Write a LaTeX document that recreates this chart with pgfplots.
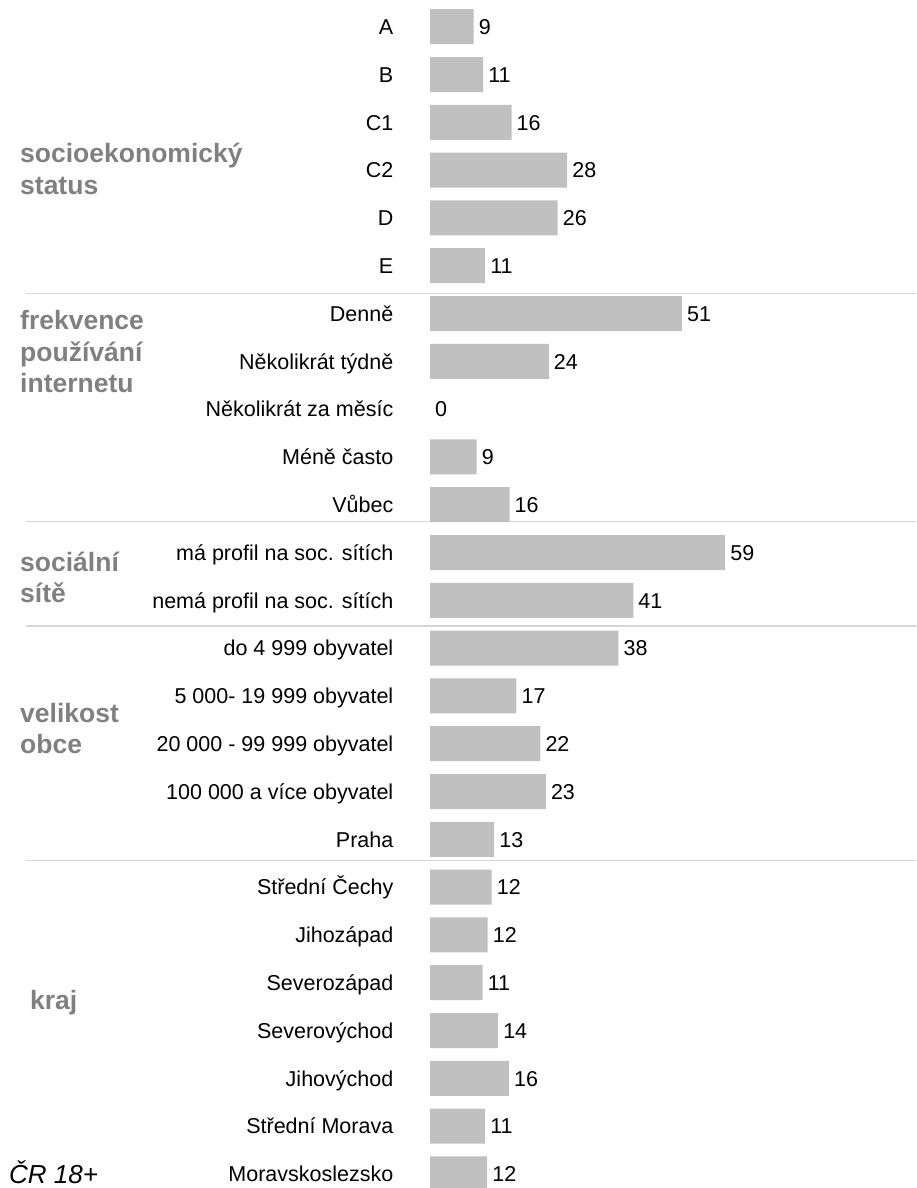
\documentclass[border=0pt]{standalone}
\usepackage{fontspec}
\setmainfont{Liberation Sans}
\usepackage{pgfplots}
\pgfplotsset{compat=1.18}
\usepackage{pgfplotstable}
\definecolor{barcol}{HTML}{C0C0C0}
\definecolor{grpcol}{HTML}{808080}
\definecolor{sepcol}{HTML}{D6D6D6}

\pgfplotstableread{
idx val lab
0 8.8 9
1 10.7 11
2 16.4 16
3 27.6 28
4 25.7 26
5 11.1 11
6 50.7 51
7 23.9 24
9 9.4 9
10 16.0 16
11 59.4 59
12 40.9 41
13 37.9 38
14 17.4 17
15 22.2 22
16 23.3 23
17 12.9 13
18 12.4 12
19 11.6 12
20 10.6 11
21 13.7 14
22 15.9 16
23 11.1 11
24 11.5 12
}\datatable

\pgfplotstableread{
idx val lab
8 0 0
}\zerotable

\begin{document}
\begin{tikzpicture}
\useasboundingbox (0pt,0pt) rectangle (916pt,1188pt);
\clip (0pt,0pt) rectangle (916pt,1188pt);
\foreach \yy in {894.7,666.3,562,327.3}
  \draw[sepcol, line width=1.5pt] (26pt,\yy pt) -- (916pt,\yy pt);
\begin{axis}[
  at={(430pt,0pt)}, anchor=south west,
  scale only axis, width=486pt, height=1188pt,
  xmin=0, xmax=97.79,
  y dir=reverse, ymin=-0.5586, ymax=24.295,
  axis line style={draw=none}, tick style={draw=none},
  xtick=\empty,
  ytick={0,1,...,24},
  yticklabels={A,B,C1,C2,D,E,Denně,Několikrát týdně,Několikrát za měsíc,Méně často,Vůbec,má profil na soc. sítích,nemá profil na soc. sítích,do 4 999 obyvatel,5 000- 19 999 obyvatel,20 000 - 99 999 obyvatel,100 000 a více obyvatel,Praha,Střední Čechy,Jihozápad,Severozápad,Severovýchod,Jihovýchod,Střední Morava,Moravskoslezsko},
  yticklabel style={font=\fontsize{21.5}{25}\selectfont, anchor=east, inner sep=0pt, text height=15.4pt, text depth=0pt, xshift=-36.5pt},
  every node near coord/.append style={font=\fontsize{21.5}{25}\selectfont, anchor=west, inner sep=0pt, text height=15.4pt, text depth=0pt, xshift=5pt, text=black},
]
\addplot[xbar, fill=barcol, draw=none, bar width=35pt, bar shift=0pt,
  point meta=explicit symbolic, nodes near coords,
] table[x=val, y=idx, meta=lab] {\datatable};
\addplot[xbar, fill=none, draw=none, bar width=35pt, bar shift=0pt,
  point meta=explicit symbolic, nodes near coords,
] table[x=val, y=idx, meta=lab] {\zerotable};
\end{axis}
\begin{scope}[every node/.style={font=\fontsize{26.5}{32}\selectfont\bfseries, text=grpcol, anchor=base west, inner sep=0pt}]
\node at (20pt,1025pt) {socioekonomický};
\node at (20pt,993pt) {status};
\node at (20pt,858pt) {frekvence};
\node at (20pt,826pt) {používání};
\node at (20pt,795pt) {internetu};
\node at (20pt,616pt) {sociální};
\node at (20pt,585pt) {sítě};
\node at (20pt,465pt) {velikost};
\node at (20pt,434pt) {obce};
\node at (30pt,178pt) {kraj};
\end{scope}
\node[font=\fontsize{26}{30}\selectfont\itshape, anchor=base west, inner sep=0pt] at (9pt,5pt) {ČR 18+};
\end{tikzpicture}
\end{document}
